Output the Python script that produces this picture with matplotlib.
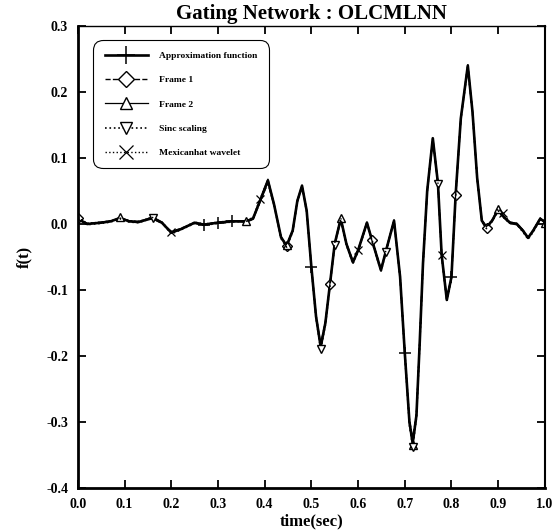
import numpy as np
import matplotlib
matplotlib.use("Agg")
import matplotlib.pyplot as plt

plt.rcParams["font.family"] = ["Liberation Serif", "DejaVu Serif"]
plt.rcParams["font.weight"] = "bold"

# time axis (sec)
t = [0.00, 0.02, 0.05, 0.07, 0.09, 0.11, 0.13, 0.16, 0.18, 0.20,
     0.22, 0.25, 0.27, 0.30, 0.33, 0.36, 0.375, 0.39, 0.407, 0.42,
     0.435, 0.447, 0.46, 0.47, 0.48, 0.49, 0.50, 0.51, 0.52, 0.53,
     0.54, 0.55, 0.563, 0.575, 0.589, 0.60, 0.619, 0.63, 0.649, 0.66,
     0.677, 0.69, 0.70, 0.71, 0.717, 0.725, 0.732, 0.739, 0.748, 0.76,
     0.771, 0.779, 0.79, 0.80, 0.809, 0.82, 0.835, 0.845, 0.855, 0.865,
     0.875, 0.887, 0.90, 0.91, 0.925, 0.94, 0.953, 0.964, 0.975, 0.99, 1.00]

approx = [0.008, 0.000, 0.002, 0.004, 0.009, 0.004, 0.003, 0.009, 0.002, -0.013,
          -0.008, 0.002, -0.001, 0.002, 0.004, 0.004, 0.008, 0.035, 0.066, 0.030,
          -0.020, -0.033, -0.010, 0.035, 0.058, 0.020, -0.065, -0.140, -0.186, -0.150,
          -0.090, -0.030, 0.008, -0.030, -0.058, -0.040, 0.002, -0.025, -0.070, -0.040,
          0.005, -0.080, -0.195, -0.300, -0.332, -0.290, -0.180, -0.060, 0.050, 0.130,
          0.062, -0.047, -0.115, -0.080, 0.045, 0.160, 0.240, 0.170, 0.070, 0.005,
          -0.005, 0.005, 0.022, 0.012, 0.002, 0.000, -0.010, -0.021, -0.010, 0.008, 0.003]

frame1 = [0.009, 0.001, 0.002, 0.005, 0.008, 0.004, 0.004, 0.008, 0.001, -0.011,
          -0.007, 0.001, -0.002, 0.003, 0.004, 0.003, 0.007, 0.033, 0.062, 0.028,
          -0.019, -0.034, -0.011, 0.034, 0.056, 0.019, -0.064, -0.138, -0.182, -0.148,
          -0.091, -0.031, 0.006, -0.029, -0.056, -0.041, 0.000, -0.024, -0.068, -0.041,
          0.004, -0.079, -0.192, -0.296, -0.326, -0.287, -0.178, -0.061, 0.048, 0.127,
          0.060, -0.046, -0.112, -0.079, 0.044, 0.158, 0.236, 0.168, 0.068, 0.003,
          -0.006, 0.004, 0.020, 0.011, 0.001, -0.001, -0.011, -0.020, -0.011, 0.007, 0.004]

frame2 = [0.007, 0.000, 0.003, 0.004, 0.010, 0.005, 0.003, 0.011, 0.003, -0.014,
          -0.008, 0.002, 0.000, 0.002, 0.005, 0.005, 0.009, 0.036, 0.068, 0.031,
          -0.021, -0.032, -0.009, 0.036, 0.059, 0.021, -0.066, -0.141, -0.188, -0.151,
          -0.089, -0.029, 0.009, -0.031, -0.059, -0.039, 0.003, -0.026, -0.071, -0.039,
          0.006, -0.081, -0.197, -0.303, -0.335, -0.292, -0.181, -0.059, 0.051, 0.128,
          0.063, -0.048, -0.116, -0.081, 0.046, 0.161, 0.241, 0.171, 0.071, 0.006,
          -0.004, 0.006, 0.023, 0.013, 0.003, 0.001, -0.009, -0.022, -0.009, 0.009, 0.002]

sinc = [0.008, -0.001, 0.001, 0.003, 0.008, 0.003, 0.002, 0.009, 0.002, -0.015,
        -0.009, 0.001, -0.002, 0.001, 0.003, 0.004, 0.007, 0.034, 0.064, 0.029,
        -0.022, -0.035, -0.012, 0.033, 0.057, 0.018, -0.067, -0.143, -0.190, -0.153,
        -0.092, -0.032, 0.007, -0.032, -0.060, -0.042, 0.001, -0.027, -0.072, -0.042,
        0.004, -0.082, -0.198, -0.305, -0.338, -0.294, -0.183, -0.062, 0.049, 0.129,
        0.061, -0.049, -0.117, -0.082, 0.043, 0.159, 0.238, 0.169, 0.069, 0.004,
        -0.007, 0.004, 0.020, 0.011, 0.001, -0.001, -0.012, -0.023, -0.012, 0.007, 0.002]

mexhat = [0.010, 0.001, 0.003, 0.005, 0.009, 0.005, 0.004, 0.010, 0.003, -0.012,
          -0.007, 0.003, 0.000, 0.003, 0.005, 0.005, 0.010, 0.038, 0.067, 0.031,
          -0.019, -0.032, -0.010, 0.036, 0.058, 0.021, -0.064, -0.139, -0.184, -0.149,
          -0.089, -0.029, 0.009, -0.029, -0.057, -0.039, 0.003, -0.024, -0.069, -0.039,
          0.006, -0.079, -0.193, -0.298, -0.328, -0.288, -0.179, -0.058, 0.051, 0.131,
          0.063, -0.047, -0.114, -0.079, 0.046, 0.161, 0.242, 0.171, 0.071, 0.006,
          -0.004, 0.006, 0.023, 0.016, 0.003, 0.001, -0.009, -0.020, -0.009, 0.009, 0.004]

labels = ["Approximation function", "Frame 1", "Frame 2", "Sinc scaling", "Mexicanhat wavelet"]
xticks = [0.0, 0.1, 0.2, 0.3, 0.4, 0.5, 0.6, 0.7, 0.8, 0.9, 1.0]
yticks = [-0.4, -0.3, -0.2, -0.1, 0.0, 0.1, 0.2, 0.3]

# where the (sparse) markers sit on each curve
mark_t = {
    "approx": [0.27, 0.30, 0.33, 0.50, 0.70, 0.80],
    "frame1": [0.00, 0.447, 0.54, 0.63, 0.809, 0.875],
    "frame2": [0.09, 0.36, 0.447, 0.563, 0.717, 0.90, 1.00],
    "sinc": [0.16, 0.52, 0.55, 0.66, 0.717, 0.771],
    "mexhat": [0.20, 0.39, 0.60, 0.779, 0.91],
}
tt = np.array(t)
def idx(key):
    return [int(np.argmin(np.abs(tt - v))) for v in mark_t[key]]

fig = plt.figure(figsize=(5.56, 5.31), dpi=100)
ax = fig.add_axes([0.140, 0.081, 0.840, 0.870])

mk = dict(color="black", markerfacecolor="white", markeredgecolor="black")
ax.plot(t, approx, "-", lw=1.9, marker="+", ms=8, mew=1.1, markevery=idx("approx"),
        label=labels[0], **mk)
ax.plot(t, frame1, "--", lw=1.0, marker="D", ms=5, mew=1.0, markevery=idx("frame1"),
        label=labels[1], **mk)
ax.plot(t, frame2, "-", lw=0.9, marker="^", ms=5.5, mew=1.0, markevery=idx("frame2"),
        label=labels[2], **mk)
ax.plot(t, sinc, ":", lw=1.2, marker="v", ms=5.5, mew=1.0, markevery=idx("sinc"),
        label=labels[3], **mk)
ax.plot(t, mexhat, ":", lw=1.0, marker="x", ms=6, mew=0.9, markevery=idx("mexhat"),
        label=labels[4], **mk)

ax.set_xlim(0, 1.0)
ax.set_ylim(-0.4, 0.3)
ax.set_xticks(xticks)
ax.set_xticklabels(["%.1f" % v for v in xticks], fontweight="bold")
ax.set_yticks(yticks)
ax.set_yticklabels(["%.1f" % v if v != 0 else "0.0" for v in yticks], fontweight="bold")
ax.tick_params(direction="in", length=6, width=1.3, top=True, right=True,
               labelsize=10, pad=7)
ax.spines["left"].set_linewidth(2.0)
ax.spines["bottom"].set_linewidth(2.0)
ax.spines["top"].set_linewidth(1.0)
ax.spines["right"].set_linewidth(1.5)

ax.set_title("Gating Network : OLCMLNN", fontsize=15, fontweight="bold", pad=5)
ax.set_xlabel("time(sec)", fontsize=12, fontweight="bold", labelpad=2)
ax.set_ylabel("f(t)", fontsize=12, fontweight="bold", labelpad=10)

leg = ax.legend(loc="upper left", bbox_to_anchor=(0.039, 0.963), borderaxespad=0,
                fontsize=6.8, handlelength=4.6, labelspacing=1.65, handletextpad=1.2,
                borderpad=0.9, markerscale=1.6, fancybox=True, framealpha=1,
                edgecolor="black")
leg.get_frame().set_linewidth(0.8)
leg.get_frame().set_boxstyle("round", pad=0.3, rounding_size=1.0)
for txt in leg.get_texts():
    txt.set_fontweight("bold")

fig.savefig("out.png", dpi=100)
